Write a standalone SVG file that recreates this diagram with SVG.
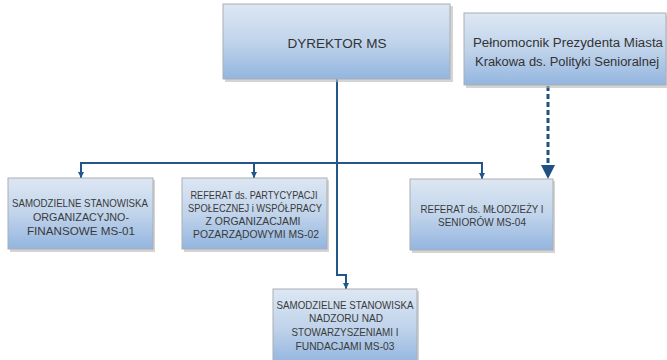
<svg xmlns="http://www.w3.org/2000/svg" width="667" height="360" viewBox="0 0 667 360">
<defs>
<linearGradient id="g" x1="0" y1="0" x2="0" y2="1">
<stop offset="0" stop-color="#dde7f3"/>
<stop offset="0.5" stop-color="#c1d4eb"/>
<stop offset="1" stop-color="#93b5df"/>
</linearGradient>
<marker id="a" viewBox="0 0 10 10" refX="10" refY="5" markerWidth="6" markerHeight="6" markerUnits="userSpaceOnUse" orient="auto">
<path d="M0,0 L10,5 L0,10 Z" fill="#235789"/>
</marker>
</defs>
<style>
.box{fill:url(#g);stroke:#a9aeb5;stroke-width:1}
.sh{fill:#b8b8b8;opacity:0.6}
.t{font-family:"Liberation Sans",Arial,sans-serif;font-size:10.5px;fill:#3a3a3a;text-anchor:middle}
.tl{font-family:"Liberation Sans",Arial,sans-serif;font-size:13.5px;fill:#333;text-anchor:middle}
.tm{font-family:"Liberation Sans",Arial,sans-serif;font-size:12px;fill:#333;text-anchor:middle}
.c{fill:none;stroke:#235789;stroke-width:2}
</style>
<rect width="667" height="360" fill="#ffffff"/>
<g id="connectors">
<path class="c" d="M337,79 V163"/>
<path class="c" d="M80,163 H483"/>
<path class="c" d="M81,163 V178" marker-end="url(#a)"/>
<path class="c" d="M254,163 V178" marker-end="url(#a)"/>
<path class="c" d="M482,163 V179" marker-end="url(#a)"/>
<path class="c" d="M337,163 V275 H346 V289" marker-end="url(#a)"/>
<path d="M548,86 V166" fill="none" stroke="#1f5283" stroke-width="3" stroke-dasharray="5,3"/>
<path d="M541,165 L555,165 L548,179 Z" fill="#1f5283"/>
</g>
<g id="dyrektor">
<rect class="sh" x="225" y="6" width="228" height="76"/>
<rect class="box" x="223" y="4" width="227" height="75"/>
<text class="tl" x="337" y="48" textLength="99" lengthAdjust="spacingAndGlyphs">DYREKTOR  MS</text>
</g>
<g id="pelnomocnik">
<rect class="sh" x="466" y="15" width="201" height="73"/>
<rect class="box" x="464" y="13" width="202" height="72"/>
<text class="tm" x="568" y="47" textLength="190" lengthAdjust="spacingAndGlyphs">Pełnomocnik  Prezydenta Miasta</text>
<text class="tm" x="567" y="66" textLength="184" lengthAdjust="spacingAndGlyphs">Krakowa ds. Polityki Senioralnej</text>
</g>
<g id="ms01">
<rect class="sh" x="10" y="180" width="145" height="72"/>
<rect class="box" x="8" y="178" width="145" height="71"/>
<text class="t" x="80" y="207" textLength="136" lengthAdjust="spacingAndGlyphs">SAMODZIELNE STANOWISKA</text>
<text class="t" x="81" y="221" textLength="96" lengthAdjust="spacingAndGlyphs">ORGANIZACYJNO-</text>
<text class="t" x="81" y="235" textLength="108" lengthAdjust="spacingAndGlyphs">FINANSOWE MS-01</text>
</g>
<g id="ms02">
<rect class="sh" x="184" y="180" width="145" height="72"/>
<rect class="box" x="182" y="178" width="145" height="71"/>
<text class="t" x="254" y="199" textLength="127" lengthAdjust="spacingAndGlyphs">REFERAT ds. PARTYCYPACJI</text>
<text class="t" x="255" y="212" textLength="134" lengthAdjust="spacingAndGlyphs">SPOŁECZNEJ i WSPÓŁPRACY</text>
<text class="t" x="253" y="225" textLength="95" lengthAdjust="spacingAndGlyphs">Z ORGANIZACJAMI</text>
<text class="t" x="256" y="238" textLength="126" lengthAdjust="spacingAndGlyphs">POZARZĄDOWYMI MS-02</text>
</g>
<g id="ms04">
<rect class="sh" x="412" y="181" width="143" height="72"/>
<rect class="box" x="410" y="179" width="143" height="71"/>
<text class="t" x="482" y="213" textLength="123" lengthAdjust="spacingAndGlyphs">REFERAT ds. MŁODZIEŻY I</text>
<text class="t" x="482" y="226" textLength="88" lengthAdjust="spacingAndGlyphs">SENIORÓW MS-04</text>
</g>
<g id="ms03">
<rect class="sh" x="275" y="291" width="144" height="72"/>
<rect class="box" x="273" y="289" width="144" height="75"/>
<text class="t" x="345" y="309" textLength="137" lengthAdjust="spacingAndGlyphs">SAMODZIELNE STANOWISKA</text>
<text class="t" x="346" y="322" textLength="74" lengthAdjust="spacingAndGlyphs">NADZORU NAD</text>
<text class="t" x="345" y="336" textLength="107" lengthAdjust="spacingAndGlyphs">STOWARZYSZENIAMI I</text>
<text class="t" x="345" y="350" textLength="99" lengthAdjust="spacingAndGlyphs">FUNDACJAMI MS-03</text>
</g>
</svg>
